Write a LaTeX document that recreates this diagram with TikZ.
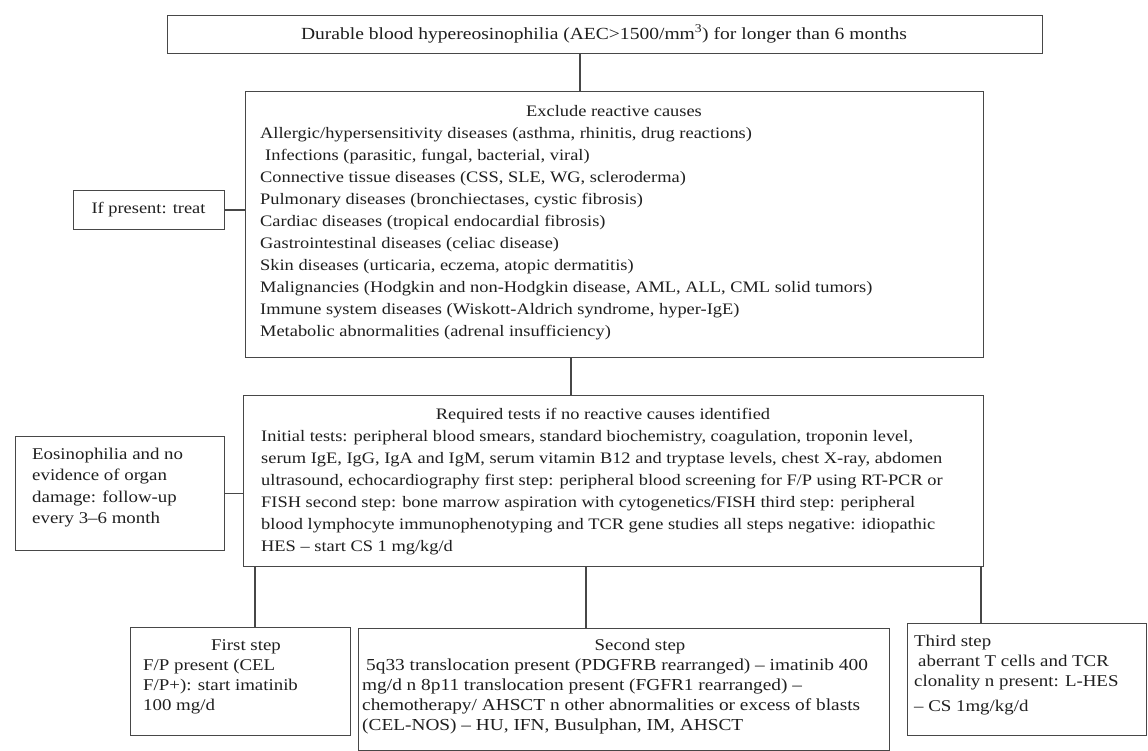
\documentclass[tikz,border=0pt]{standalone}
\usepackage{fontspec}
\setmainfont{Liberation Serif}[FakeStretch=1.15]
\begin{document}
\begin{tikzpicture}[x=1pt,y=-1pt,
  box/.style={draw=black!72, line width=1.2pt, inner sep=0pt, anchor=north west},
  conn/.style={draw=black!72, line width=1.2pt},
  txt/.style={inner sep=0pt, align=left, text=black!88, font=\fontsize{16}{22}\selectfont},
  txts/.style={inner sep=0pt, align=left, text=black!88, font=\fontsize{16.4}{20}\selectfont}]
\useasboundingbox (0,0) rectangle (1148,751);
\fill[white] (0,0) rectangle (1148,751);
% boxes
\node[box, minimum width=875, minimum height=38] (top) at (167,15) {};
\node[box, minimum width=738, minimum height=266] (excl) at (245,91) {};
\node[box, minimum width=151, minimum height=39] (treat) at (73,190) {};
\node[box, minimum width=740, minimum height=171] (req) at (243,395) {};
\node[box, minimum width=209, minimum height=114] (eos) at (15,436) {};
\node[box, minimum width=220, minimum height=108] (s1) at (130,627) {};
\node[box, minimum width=531, minimum height=122] (s2) at (358,628) {};
\node[box, minimum width=239, minimum height=112] (s3) at (907,623) {};
% connector x positions
\coordinate (c1) at (580,0);
\coordinate (c2) at (571,0);
\coordinate (c3) at (255,0);
\coordinate (c4) at (586,0);
\coordinate (c5) at (981,0);
\draw[conn] (top.south -| c1) -- (excl.north -| c1);
\draw[conn] (treat.east) -- (excl.west |- treat.east);
\draw[conn] (excl.south -| c2) -- (req.north -| c2);
\draw[conn] (eos.east) -- (req.west |- eos.east);
\draw[conn] (req.south -| c3) -- (s1.north -| c3);
\draw[conn] (req.south -| c4) -- (s2.north -| c4);
\draw[conn] (req.south -| c5) -- (s3.north -| c5);
% texts
\node[txt, anchor=center, font=\fontsize{17}{22}\selectfont] (ttop) at (604,34) {Durable blood hypereosinophilia (AEC>1500/mm\textsuperscript{3}) for longer than 6 months};
\node[txt, anchor=north] (texclt) at (614,101.2) {\strut Exclude reactive causes};
\node[txt, anchor=north west] (texcl) at (260,123.2) {\strut Allergic/hypersensitivity diseases (asthma, rhinitis, drug reactions)\\
\hspace*{5pt}Infections (parasitic, fungal, bacterial, viral)\\
Connective tissue diseases (CSS, SLE, WG, scleroderma)\\
Pulmonary diseases (bronchiectases, cystic fibrosis)\\
Cardiac diseases (tropical endocardial fibrosis)\\
Gastrointestinal diseases (celiac disease)\\
Skin diseases (urticaria, eczema, atopic dermatitis)\\
Malignancies (Hodgkin and non-Hodgkin disease, AML, ALL, CML solid tumors)\\
Immune system diseases (Wiskott-Aldrich syndrome, hyper-IgE)\\
Metabolic abnormalities (adrenal insufficiency)};
\node[txt, anchor=center] (ttreat) at (148.5,209.5) {If present: treat};
\node[txt, anchor=north] (treqt) at (603,404.2) {\strut Required tests if no reactive causes identified};
\node[txt, anchor=north west] (treq) at (261,426.2) {\strut Initial tests: peripheral blood smears, standard biochemistry, coagulation, troponin level,\\
serum IgE, IgG, IgA and IgM, serum vitamin B12 and tryptase levels, chest X-ray, abdomen\\
ultrasound, echocardiography first step: peripheral blood screening for F/P using RT-PCR or\\
FISH second step: bone marrow aspiration with cytogenetics/FISH third step: peripheral\\
blood lymphocyte immunophenotyping and TCR gene studies all steps negative: idiopathic\\
HES -- start CS 1 mg/kg/d};
\node[txt, anchor=north west, font=\fontsize{16.4}{21.4}\selectfont] (teos) at (32,444.2) {\strut Eosinophilia and no\\
evidence of organ\\
damage: follow-up\\
every 3--6 month};
\node[txts, anchor=north] (ts1t) at (246,636.6) {\strut First step};
\node[txts, anchor=north west] (ts1) at (143,656.6) {\strut F/P present (CEL\\
F/P+): start imatinib\\
100 mg/d};
\node[txts, anchor=north] (ts2t) at (640,636.6) {\strut Second step};
\node[txts, anchor=north west, font=\fontsize{16.8}{20}\selectfont] (ts2) at (362,656.6) {\strut\hspace*{4pt}5q33 translocation present (PDGFRB rearranged) -- imatinib 400\\
mg/d n 8p11 translocation present (FGFR1 rearranged) --\\
chemotherapy/ AHSCT n other abnormalities or excess of blasts\\
(CEL-NOS) -- HU, IFN, Busulphan, IM, AHSCT};
\node[txts, anchor=north west] (ts3) at (914,632.6) {\strut Third step\\
\hspace*{4pt}aberrant T cells and TCR\\
clonality n present: L-HES\\[5pt]
-- CS 1mg/kg/d};
\end{tikzpicture}
\end{document}
